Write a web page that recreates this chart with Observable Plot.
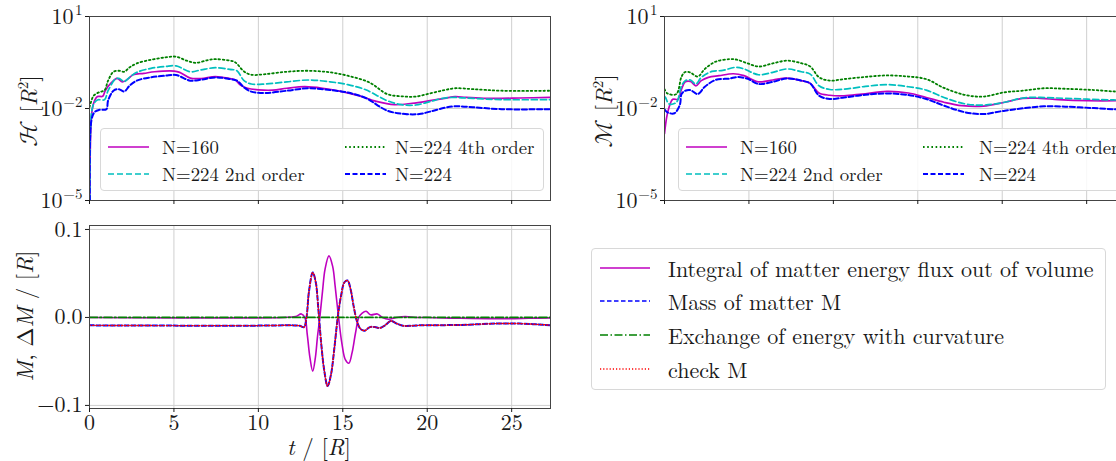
<!DOCTYPE html>
<html>
<head>
<meta charset="utf-8">
<script src="https://cdn.jsdelivr.net/npm/d3@7"></script>
<script src="https://cdn.jsdelivr.net/npm/@observablehq/plot@0.6"></script>
<style>
  html, body { margin: 0; padding: 0; background: #fff; }
  #root { position: relative; width: 1116px; height: 461px; overflow: hidden; color: #1a1a1a; }
  #root svg text { font-family: 'Latin Modern Roman', 'Liberation Serif', serif !important; }
  .panel { position: absolute; }
  .lab { position: absolute; white-space: nowrap; font-size: 23px; line-height: 0.9; }
  .rot { transform: translate(-50%, -50%) rotate(-90deg); }
  .legend { position: absolute; background: rgba(255,255,255,0.85); border: 1px solid #d8d8d8; border-radius: 4px; box-sizing: border-box; }
  .item { position: absolute; white-space: nowrap; line-height: 1; }
  .item span { position: absolute; transform: translateY(-52%); }
</style>
</head>
<body>
<div id="root" style="font-family:'Latin Modern Roman','Liberation Serif',serif"></div>
<script>
// ---------------- DATA ----------------
const tMax = 27.3;
const tTicks = [0, 5, 10, 15, 20, 25];
const logTicks = [1e-5, 1e-2, 10];
const logTickExponents = ["−5", "−2", "1"];
const linTicks = [-0.1, 0.0, 0.1];
const linTickLabels = ["−0.1", "0.0", "0.1"];

// Hamiltonian constraint  [t, H]
const H_N160 = [[0.02,1e-5],[0.15,0.0085],[0.30,0.018],[0.47,0.0245],[0.78,0.0251],[0.93,0.038],[1.31,0.0708],[1.63,0.096],[1.95,0.074],[2.27,0.091],[2.58,0.126],[3.22,0.14],[3.86,0.158],[5.02,0.166],[5.34,0.151],[5.97,0.098],[6.61,0.095],[7.46,0.11],[8.31,0.095],[8.62,0.087],[8.94,0.058],[9.36,0.0457],[10.0,0.0407],[10.85,0.0398],[11.69,0.0457],[12.75,0.0513],[13.81,0.0457],[14.87,0.0363],[15.93,0.0263],[16.99,0.017],[18.05,0.0133],[19.11,0.0148],[20.17,0.018],[21.02,0.0214],[21.65,0.0245],[22.29,0.0229],[23.35,0.0214],[24.41,0.0214],[25.47,0.022],[27.3,0.0229]];
const H_N224_2nd = [[0.02,1e-5],[0.11,0.0066],[0.25,0.0141],[0.47,0.019],[0.89,0.0195],[1.10,0.038],[1.53,0.091],[1.74,0.096],[2.06,0.076],[2.37,0.1035],[2.80,0.151],[3.64,0.204],[4.49,0.234],[5.13,0.245],[5.97,0.158],[6.61,0.182],[7.46,0.214],[8.31,0.188],[8.73,0.17],[9.15,0.081],[9.58,0.063],[10.42,0.063],[11.69,0.074],[12.97,0.085],[14.24,0.074],[15.30,0.060],[16.36,0.0407],[17.63,0.018],[18.47,0.0133],[19.32,0.013],[20.17,0.0168],[21.02,0.022],[21.65,0.0229],[22.71,0.0214],[24.41,0.0195],[27.3,0.0195]];
const H_N224_4th = [[0.0,0.011],[0.08,0.0158],[0.25,0.0263],[0.57,0.0339],[0.89,0.0395],[1.10,0.081],[1.42,0.158],[1.74,0.17],[2.06,0.158],[2.37,0.219],[2.80,0.295],[3.64,0.389],[4.49,0.462],[5.13,0.49],[5.76,0.363],[6.29,0.309],[7.03,0.38],[7.46,0.407],[8.31,0.363],[8.62,0.324],[9.15,0.162],[9.58,0.126],[10.42,0.132],[11.69,0.158],[12.97,0.17],[14.24,0.151],[15.30,0.117],[16.57,0.0708],[17.63,0.0295],[18.47,0.025],[19.32,0.0245],[20.17,0.031],[21.02,0.0398],[21.65,0.0457],[22.71,0.0427],[24.41,0.038],[27.3,0.038]];
const H_N224 = [[0.02,1e-5],[0.11,0.004],[0.30,0.0076],[0.57,0.009],[1.0,0.0095],[1.10,0.018],[1.42,0.038],[1.74,0.0427],[2.06,0.036],[2.37,0.055],[2.80,0.081],[3.64,0.1035],[4.49,0.1175],[5.13,0.123],[5.97,0.081],[6.61,0.087],[7.46,0.1035],[8.31,0.091],[8.73,0.081],[9.15,0.049],[9.58,0.0355],[10.42,0.032],[11.69,0.038],[12.97,0.0457],[14.24,0.040],[15.30,0.033],[16.36,0.022],[17.63,0.0085],[18.69,0.0066],[19.53,0.0066],[20.17,0.0079],[21.02,0.0105],[21.65,0.0118],[22.71,0.011],[24.41,0.0095],[27.3,0.0095]];

// Momentum constraint  [t, M]
const M_N160 = [[0.0,0.0015],[0.13,0.0052],[0.27,0.011],[0.49,0.02],[0.80,0.02],[1.01,0.0427],[1.23,0.074],[1.54,0.076],[1.86,0.055],[2.18,0.081],[2.60,0.1035],[3.23,0.1175],[4.08,0.136],[4.71,0.1175],[5.56,0.074],[6.41,0.085],[7.25,0.098],[8.10,0.081],[8.63,0.066],[9.15,0.032],[9.79,0.027],[10.63,0.026],[11.69,0.0295],[13.17,0.036],[14.44,0.032],[15.50,0.0229],[16.55,0.016],[17.61,0.0124],[18.88,0.012],[20.15,0.016],[21.21,0.0214],[22.26,0.0214],[23.32,0.0195],[25.01,0.018],[27.3,0.018]];
const M_N224_2nd = [[0.0,0.025],[0.06,0.0229],[0.27,0.0141],[0.70,0.0158],[1.01,0.055],[1.23,0.081],[1.54,0.085],[1.86,0.063],[2.18,0.1035],[2.81,0.162],[3.45,0.174],[4.19,0.219],[4.71,0.195],[5.56,0.126],[6.41,0.151],[7.25,0.195],[8.10,0.158],[8.63,0.132],[9.15,0.055],[9.79,0.0417],[10.63,0.0427],[11.90,0.0525],[13.17,0.060],[14.44,0.0513],[15.50,0.0398],[16.55,0.0229],[17.82,0.0141],[18.88,0.0129],[20.15,0.016],[21.21,0.022],[22.26,0.0229],[23.74,0.0214],[26.6,0.019],[27.3,0.019]];
const M_N224_4th = [[0.0,0.043],[0.17,0.031],[0.70,0.0295],[1.01,0.11],[1.23,0.155],[1.54,0.148],[1.97,0.11],[2.39,0.195],[3.02,0.335],[3.87,0.407],[4.29,0.389],[4.93,0.295],[5.56,0.234],[6.41,0.295],[7.25,0.363],[8.10,0.30],[8.63,0.234],[9.15,0.105],[9.79,0.081],[10.63,0.091],[11.90,0.107],[13.17,0.12],[14.44,0.11],[15.50,0.091],[16.55,0.047],[17.82,0.0275],[18.88,0.0245],[20.15,0.0339],[21.21,0.038],[22.47,0.0457],[23.74,0.044],[25.43,0.040],[26.6,0.036],[27.3,0.035]];
const M_N224 = [[0.0,0.0095],[0.17,0.0075],[0.59,0.007],[0.91,0.0133],[1.01,0.0295],[1.23,0.038],[1.54,0.0398],[1.97,0.0295],[2.39,0.0513],[3.02,0.085],[3.87,0.095],[4.29,0.106],[4.93,0.093],[5.56,0.063],[6.41,0.074],[7.25,0.095],[8.10,0.081],[8.63,0.066],[9.15,0.0263],[9.79,0.0204],[10.63,0.0229],[11.90,0.028],[13.17,0.031],[14.44,0.0275],[15.50,0.0204],[16.55,0.0124],[17.82,0.0075],[18.88,0.0066],[20.15,0.0085],[21.21,0.0101],[22.47,0.0118],[23.74,0.0115],[25.43,0.0103],[26.6,0.0095],[27.3,0.0093]];

// Energy balance  [t, value]
const fluxIntegral = [[0,0],[11.5,0],[12.2,0.001],[12.55,0.004],[12.75,0.0],[12.9,-0.02],[13.05,-0.045],[13.22,-0.061],[13.38,-0.045],[13.5,-0.022],[13.64,0.0],[13.8,0.03],[13.95,0.055],[14.18,0.070],[14.4,0.058],[14.55,0.035],[14.75,0.0],[14.95,-0.03],[15.15,-0.048],[15.36,-0.052],[15.55,-0.04],[15.75,-0.018],[15.95,0.0],[16.15,0.005],[16.38,0.007],[16.65,0.003],[17.05,0.004],[17.35,0.0],[17.7,-0.002],[18.2,0.0],[18.7,0.001],[19.3,0.0],[20,0],[22,-0.001],[24,-0.0015],[26,-0.001],[27.3,-0.0005]];
const massMatter = [[0,-0.009],[5,-0.0093],[10,-0.0093],[12,-0.009],[12.45,-0.0095],[12.7,-0.011],[12.85,0.0],[13.0,0.03],[13.22,0.051],[13.4,0.04],[13.55,0.01],[13.7,-0.025],[13.9,-0.06],[14.1,-0.078],[14.3,-0.065],[14.5,-0.035],[14.7,0.0],[14.9,0.025],[15.1,0.04],[15.28,0.042],[15.45,0.033],[15.65,0.012],[15.85,-0.005],[16.05,-0.013],[16.3,-0.015],[16.6,-0.011],[16.9,-0.011],[17.2,-0.012],[17.5,-0.009],[17.85,-0.004],[18.2,-0.007],[18.6,-0.0095],[19.5,-0.009],[22,-0.0085],[24,-0.007],[25.5,-0.007],[27.3,-0.0088]];
const curvatureExchange = [[0,0],[27.3,0]];
const checkM = [[0,-0.009],[5,-0.0093],[10,-0.0093],[12,-0.009],[12.45,-0.0095],[12.7,-0.011],[12.85,0.0],[13.0,0.03],[13.22,0.051],[13.4,0.04],[13.55,0.01],[13.7,-0.025],[13.9,-0.06],[14.1,-0.078],[14.3,-0.065],[14.5,-0.035],[14.7,0.0],[14.9,0.025],[15.1,0.04],[15.28,0.042],[15.45,0.033],[15.65,0.012],[15.85,-0.005],[16.05,-0.013],[16.3,-0.015],[16.6,-0.011],[16.9,-0.011],[17.2,-0.012],[17.5,-0.009],[17.85,-0.004],[18.2,-0.007],[18.6,-0.0095],[19.5,-0.009],[22,-0.0085],[24,-0.007],[25.5,-0.007],[27.3,-0.0088]];

const topNames = ["N=160", "N=224 2nd order", "N=224 4th order", "N=224"];
const bottomNames = ["Integral of matter energy flux out of volume", "Mass of matter M", "Exchange of energy with curvature", "check M"];

// ---------------- STYLES ----------------
const FONT = "'Latin Modern Roman', 'Liberation Serif', serif";
const topStyles = [
  {color: "#bf00bf", width: 1.7, dash: null},
  {color: "#00bfbf", width: 1.7, dash: "6,3"},
  {color: "#008000", width: 1.8, dash: "1.6,2.6"},
  {color: "#0000ff", width: 2.0, dash: "5,2.5"}
];
const botStyles = [
  {color: "#bf00bf", width: 1.6, dash: null},
  {color: "#0000ff", width: 2.0, dash: "4.5,2.5"},
  {color: "#008000", width: 1.8, dash: "8,2.5,1.5,2.5"},
  {color: "#ff0000", width: 1.4, dash: "1.2,2"}
];

const root = document.getElementById("root");
const gridStyle = {stroke: "#cfcfcf", strokeOpacity: 1, strokeWidth: 1};
const baseStyle = {fontFamily: FONT, fontSize: "22px", color: "#1a1a1a", background: "transparent", overflow: "visible"};

function lineMarks(series, styles) {
  return series.map((s, i) => Plot.line(s, {
    x: d => d[0], y: d => d[1], stroke: styles[i].color, strokeWidth: styles[i].width,
    strokeDasharray: styles[i].dash, curve: "catmull-rom", clip: true
  }));
}

// power-of-ten tick labels: base "10" plus a raised exponent, one pair per tick
function logLabelMarks() {
  const marks = [];
  logTicks.forEach((v, i) => {
    const e = logTickExponents[i];
    const expW = e.startsWith("−") ? 19 : 8;
    marks.push(Plot.text([v], {y: d => d, frameAnchor: "left", text: () => "10", textAnchor: "end", dx: -8 - expW, fontSize: 22, fill: "#1a1a1a"}));
    marks.push(Plot.text([v], {y: d => d, frameAnchor: "left", text: () => e, textAnchor: "end", dx: -7, dy: -6, fontSize: 15, fill: "#1a1a1a"}));
  });
  return marks;
}

function topPanel(series, left) {
  const p = Plot.plot({
    width: 560, height: 216,
    marginLeft: 89, marginRight: 10, marginTop: 16, marginBottom: 16,
    style: baseStyle,
    x: {domain: [0, tMax]},
    y: {type: "log", domain: [1e-5, 10]},
    marks: [
      Plot.gridX([5, 10, 15, 20, 25], gridStyle),
      Plot.gridY([1e-2], gridStyle),
      ...lineMarks(series, topStyles),
      Plot.frame({stroke: "#444", strokeWidth: 1}),
      Plot.axisY(logTicks, {tickSize: 4, tickFormat: () => "", label: null}),
      ...logLabelMarks(),
      Plot.axisX(tTicks, {tickSize: 4, tickFormat: () => "", label: null})
    ]
  });
  p.classList.add("panel");
  p.style.left = left + "px"; p.style.top = "0px";
  root.appendChild(p);
}

topPanel([H_N160, H_N224_2nd, H_N224_4th, H_N224], 0);
topPanel([M_N160, M_N224_2nd, M_N224_4th, M_N224], 575);

const bp = Plot.plot({
  width: 560, height: 252,
  marginLeft: 89, marginRight: 10, marginTop: 16, marginBottom: 53,
  style: baseStyle,
  x: {domain: [0, tMax]},
  y: {domain: [-0.1035, 0.1045]},
  marks: [
    Plot.gridX([5, 10, 15, 20, 25], gridStyle),
    Plot.gridY(linTicks, gridStyle),
    ...lineMarks([fluxIntegral, massMatter, curvatureExchange, checkM], botStyles),
    Plot.frame({stroke: "#444", strokeWidth: 1}),
    Plot.axisY(linTicks, {tickSize: 4, tickPadding: 3, tickFormat: d => linTickLabels[linTicks.indexOf(d)], label: null, fontSize: 22}),
    Plot.axisX(tTicks, {tickSize: 4, tickPadding: 2, tickFormat: d => String(d), label: null, fontSize: 22})
  ]
});
bp.classList.add("panel");
bp.style.left = "0px"; bp.style.top = "209px";
root.appendChild(bp);

// ---------------- AXIS LABELS ----------------
function addLabel(html, x, y, rotate) {
  const d = document.createElement("div");
  d.className = "lab" + (rotate ? " rot" : "");
  d.style.fontFamily = FONT;
  d.innerHTML = html;
  d.style.left = x + "px"; d.style.top = y + "px";
  if (!rotate) d.style.transform = "translate(-50%, -50%)";
  root.appendChild(d);
}
const CAL = "font-family:'Latin Modern Math','DejaVu Serif',serif;font-size:25px";
addLabel(`<span style="${CAL}">ℋ</span> [<i>R</i><sup style="font-size:15px">2</sup>]`, 28, 111, true);
addLabel(`<span style="${CAL}">ℳ</span> [<i>R</i><sup style="font-size:15px">2</sup>]`, 603, 111, true);
addLabel('<i>M</i>, Δ<i>M</i> / [<i>R</i>]', 24, 316, true);
addLabel('<i>t</i> / [<i>R</i>]', 319, 446, false);

// ---------------- LEGENDS ----------------
function sample(style, len, w) {
  const dash = style.dash ? `stroke-dasharray="${style.dash}"` : "";
  return `<svg width="${len}" height="4" style="position:absolute;left:0;top:-2px;overflow:visible"><line x1="0" y1="2" x2="${len}" y2="2" stroke="${style.color}" stroke-width="${w || style.width}" ${dash}/></svg>`;
}
function legend(box, items) {
  const lg = document.createElement("div");
  lg.className = "legend";
  Object.assign(lg.style, {left: box.x + "px", top: box.y + "px", width: box.w + "px", height: box.h + "px", fontFamily: FONT});
  items.forEach(it => {
    const d = document.createElement("div");
    d.className = "item";
    d.style.left = it.x + "px"; d.style.top = it.y + "px"; d.style.fontSize = it.fs + "px";
    d.innerHTML = `${sample(it.style, it.len, it.lw)}<span style="left:${it.tx}px;top:0;font-family:${FONT}">${it.name}</span>`;
    lg.appendChild(d);
  });
  root.appendChild(lg);
}
function topLegendItems(col2text) {
  const pos = [[7, 18], [7, 45], [244, 18], [244, 45]];
  return [0, 1, 2, 3].map(i => ({x: pos[i][0], y: pos[i][1], style: topStyles[i], len: 41, tx: i < 2 ? 54 : col2text, name: topNames[i], fs: 18.8}));
}
legend({x: 100, y: 128, w: 444, h: 63}, topLegendItems(50));
legend({x: 678, y: 128, w: 470, h: 63}, topLegendItems(56));
legend({x: 591, y: 248, w: 515, h: 142}, bottomNames.map((n, i) => ({
  x: 8, y: [19, 52, 86, 120][i], style: botStyles[i], len: 50, lw: 1.3, tx: 68, name: n, fs: 22
})));
</script>
</body>
</html>
